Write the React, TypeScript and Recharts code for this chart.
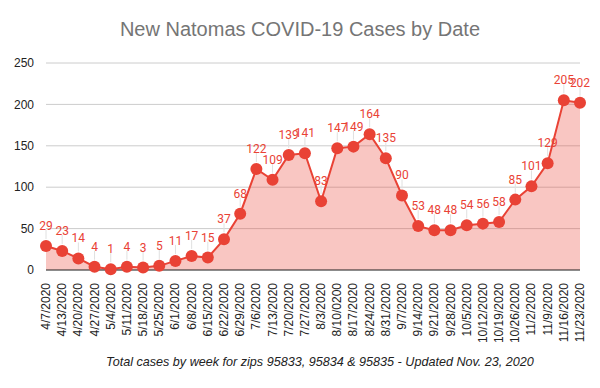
import React from "react";
import { AreaChart, Area, XAxis, YAxis, CartesianGrid } from "recharts";

const dates = [
  "4/7/2020", "4/13/2020", "4/20/2020", "4/27/2020", "5/4/2020", "5/11/2020",
  "5/18/2020", "5/25/2020", "6/1/2020", "6/8/2020", "6/15/2020", "6/22/2020",
  "6/29/2020", "7/6/2020", "7/13/2020", "7/20/2020", "7/27/2020", "8/3/2020",
  "8/10/0200", "8/17/2020", "8/24/2020", "8/31/2020", "9/7/2020", "9/14/2020",
  "9/21/2020", "9/28/2020", "10/5/2020", "10/12/2020", "10/19/2020", "10/26/2020",
  "11/2/2020", "11/9/2020", "11/16/2020", "11/23/2020",
];
const cases = [
  29, 23, 14, 4, 1, 4, 3, 5, 11, 17, 15, 37, 68, 122, 109, 139, 141, 83,
  147, 149, 164, 135, 90, 53, 48, 48, 54, 56, 58, 85, 101, 129, 205, 202,
];
const yTicks = [0, 50, 100, 150, 200, 250];

const data = dates.map((d, i) => ({ date: d, cases: cases[i] }));

const RED = "#e94235";

const XTick = (props: any) => {
  const { x, y, payload } = props;
  return (
    <text
      x={x}
      y={y}
      dy={4}
      transform={`rotate(-90, ${x}, ${y})`}
      textAnchor="end"
      fontFamily="Liberation Sans, Arial, sans-serif"
      fontSize={12}
      fill="#222"
    >
      {payload.value}
    </text>
  );
};

const Dot = (props: any) => {
  const { cx, cy } = props;
  if (cx == null || cy == null) return null;
  return <circle cx={cx} cy={cy} r={6} fill={RED} fillOpacity={1} stroke="none" />;
};

const DataLabel = (props: any) => {
  const { x, y, value } = props;
  return (
    <g>
      <line x1={x} x2={x} y1={y - 7} y2={y - 16} stroke="#e0e0e0" strokeWidth={1} />
      <text
        x={x}
        y={y - 16}
        textAnchor="middle"
        fontFamily="Roboto, sans-serif"
        fontSize={12}
        fill={RED}
      >
        {value}
      </text>
    </g>
  );
};

export default function App() {
  return (
    <div style={{ position: "absolute", left: 0, top: 0, width: 600, height: 388, background: "#fff" }}>
      <div
        style={{
          position: "absolute",
          left: 0,
          top: 18,
          width: 600,
          textAlign: "center",
          fontFamily: "Liberation Sans, Arial, sans-serif",
          fontSize: 20,
          color: "#757575",
        }}
      >
        New Natomas COVID-19 Cases by Date
      </div>
      <AreaChart
        width={600}
        height={388}
        data={data}
        margin={{ top: 63, right: 20, left: 0, bottom: 0 }}
      >
        <CartesianGrid vertical={false} stroke="#cccccc" />
        <XAxis
          dataKey="date"
          interval={0}
          height={118}
          tick={<XTick />}
          tickLine={false}
          axisLine={{ stroke: "#333333", strokeWidth: 1 }}
          tickMargin={7}
        />
        <YAxis
          domain={[0, 250]}
          ticks={yTicks}
          width={46}
          axisLine={false}
          tickLine={false}
          tickMargin={6}
          tick={{ fontSize: 12, fill: "#222", fontFamily: "Liberation Sans, Arial, sans-serif" }}
        />
        <Area
          type="linear"
          dataKey="cases"
          stroke={RED}
          strokeWidth={2}
          fill="#ea4335"
          fillOpacity={0.3}
          dot={<Dot />}
          activeDot={false}
          label={<DataLabel />}
          isAnimationActive={false}
        />
      </AreaChart>
      <div
        style={{
          position: "absolute",
          left: 20,
          top: 355,
          width: 600,
          textAlign: "center",
          fontFamily: "Liberation Sans, Arial, sans-serif",
          fontSize: 12.6,
          fontStyle: "italic",
          color: "#222",
        }}
      >
        Total cases by week for zips 95833, 95834 &amp; 95835 - Updated Nov. 23, 2020
      </div>
    </div>
  );
}
